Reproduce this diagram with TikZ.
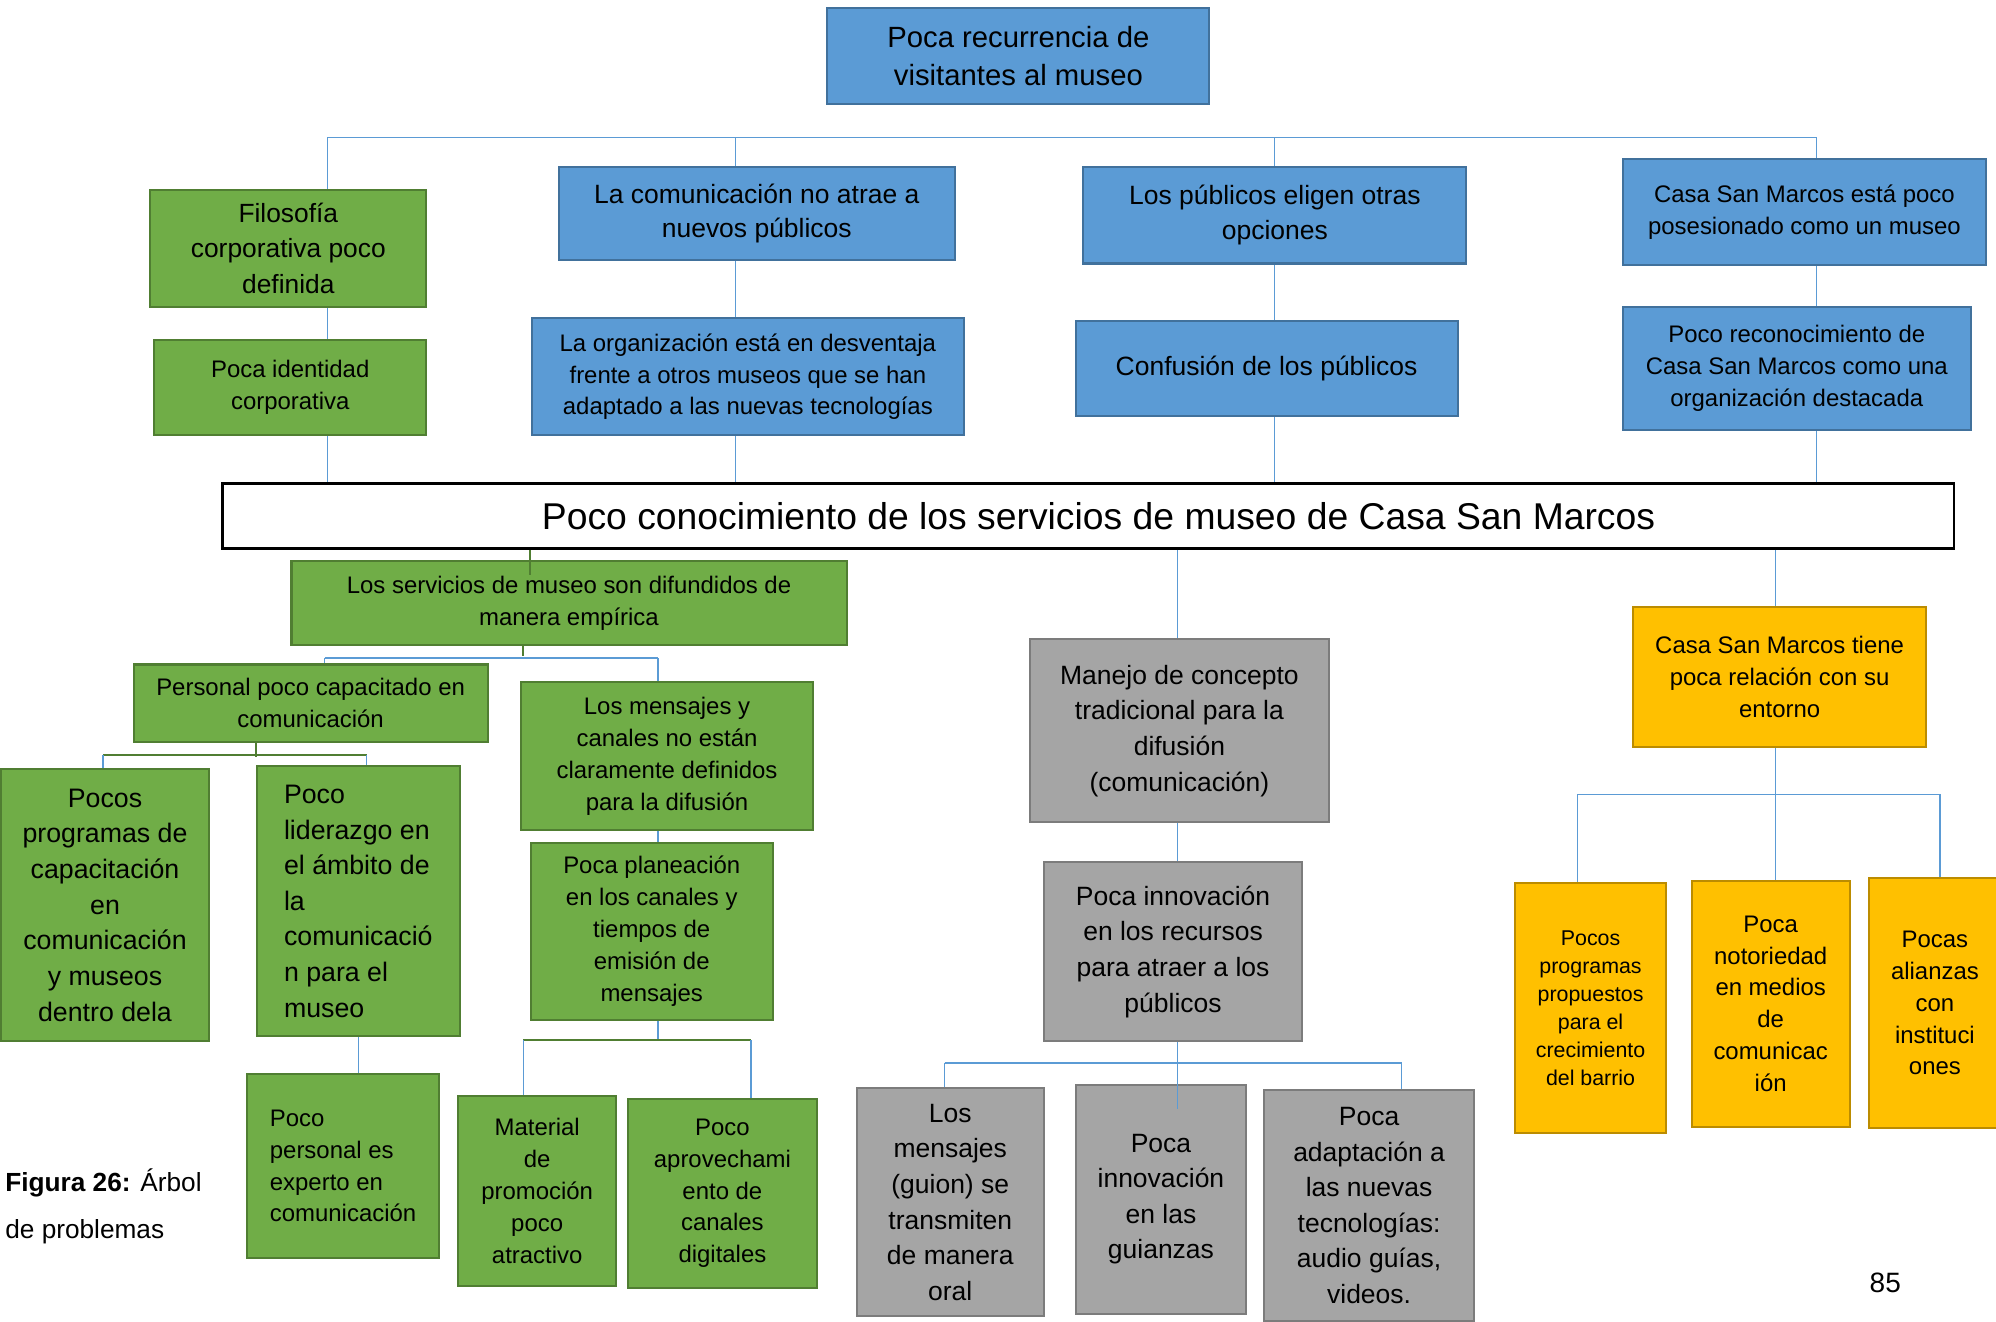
\documentclass[tikz,border=0pt]{standalone}
\usepackage{fontspec}
\setmainfont{Liberation Sans}

\definecolor{azul}{HTML}{5B9BD5}
\definecolor{azulborde}{HTML}{41719C}
\definecolor{verde}{HTML}{70AD47}
\definecolor{verdeborde}{HTML}{507E32}
\definecolor{gris}{HTML}{A5A5A5}
\definecolor{grisborde}{HTML}{7C7C7C}
\definecolor{naranja}{HTML}{FFC000}
\definecolor{naranjaborde}{HTML}{BC8C00}

\tikzset{
  bluebox/.style={draw=azulborde, fill=azul, line width=1.6pt, inner sep=0pt, align=center},
  greenbox/.style={draw=verdeborde, fill=verde, line width=1.6pt, inner sep=0pt, align=center},
  graybox/.style={draw=grisborde, fill=gris, line width=1.6pt, inner sep=0pt, align=center},
  orangebox/.style={draw=naranjaborde, fill=naranja, line width=1.6pt, inner sep=0pt, align=center},
  dims/.style 2 args={minimum width=#1, minimum height=#2},
  fs/.style={font=\fontsize{18.8}{25}\selectfont},
  fm/.style={font=\fontsize{20.8}{28}\selectfont},
  conn/.style={draw=azul, line width=1pt},
  gconn/.style={draw=verdeborde, line width=1.6pt},
}

\begin{document}
\begin{tikzpicture}[x=1pt, y=-1pt]
\useasboundingbox (0,0) rectangle (1568,1038.5);

% efectos
\path (800,44) node[bluebox, dims={300}{76}, font=\fontsize{23}{30}\selectfont] (top) {Poca recurrencia de\\visitantes al museo};

\path (226.5,195) node[greenbox, dims={217}{92}, font=\fontsize{20.7}{28}\selectfont] (filo) {Filosofía\\corporativa poco\\definida};
\path (228,304.5) node[greenbox, dims={214}{75}, fs] (ident) {Poca identidad\\corporativa};

\path (594.5,167.5) node[bluebox, dims={311}{73}, font=\fontsize{20.8}{27}\selectfont] (comu) {La comunicación no atrae a\\nuevos públicos};
\path (587.5,296) node[bluebox, dims={339}{92}, fs] (org) {La organización está en desventaja\\frente a otros museos que se han\\adaptado a las nuevas tecnologías};

\path (1001.5,169) node[bluebox, dims={301}{76}, fm] (publ) {Los públicos eligen otras\\opciones};
\path (995,289.5) node[bluebox, dims={300}{75}, fm] (conf) {Confusión de los públicos};

\path (1417.5,166.5) node[bluebox, dims={285}{83}, fs] (casa) {Casa San Marcos está poco\\posesionado como un museo};
\path (1411.5,289.5) node[bluebox, dims={273}{97}, fs] (recon) {Poco reconocimiento de\\Casa San Marcos como una\\organización destacada};

% problema central
\path (855,405.5) node[draw=black, fill=white, line width=2pt, inner sep=0pt, dims={1360}{51}, font=\fontsize{29.3}{34}\selectfont] (core) {\hspace*{16pt}Poco conocimiento de los servicios de museo de Casa San Marcos};

% causas (verde)
\path (447,474) node[greenbox, dims={436}{66}, fs] (serv) {Los servicios de museo son difundidos de\\manera empírica};
\path (244,552.5) node[greenbox, dims={278}{61}, fs] (pers) {Personal poco capacitado en\\comunicación};
\path (524,594) node[greenbox, dims={230}{116}, fs] (mens) {Los mensajes y\\canales no están\\claramente definidos\\para la difusión};
\path (512,731.5) node[greenbox, dims={190}{139}, fs] (plan) {Poca planeación\\en los canales y\\tiempos de\\emisión de\\mensajes};
\path (82.5,711) node[greenbox, dims={163}{214}, font=\fontsize{21}{28}\selectfont] (pocos) {Pocos\\programas de\\capacitación\\en\\comunicación\\y museos\\dentro dela};
\path (281.5,708) node[greenbox, dims={159}{212}, align=left, font=\fontsize{21}{28}\selectfont] (lider) {Poco\\liderazgo en\\el ámbito de\\la\\comunicació\\n para el\\museo};
\path (269.5,916) node[greenbox, dims={151}{144}, align=left, fs] (personal) {Poco\\personal es\\experto en\\comunicación};
\path (422,935.5) node[greenbox, dims={124}{149}, fs] (mat) {Material\\de\\promoción\\poco\\atractivo};
\path (567.5,937.5) node[greenbox, dims={149}{149}, fs] (aprov) {Poco\\aprovechami\\ento de\\canales\\digitales};

% causas (gris)
\path (926.5,574) node[graybox, dims={235}{144}, fm] (manejo) {Manejo de concepto\\tradicional para la\\difusión\\(comunicación)};
\path (921.5,747.5) node[graybox, dims={203}{141}, fm] (innov) {Poca innovación\\en los recursos\\para atraer a los\\públicos};
\path (746.5,944.5) node[graybox, dims={147}{179}, fm] (oral) {Los\\mensajes\\(guion) se\\transmiten\\de manera\\oral};
\path (912,942) node[graybox, dims={134}{180}, fm] (guia) {Poca\\innovación\\en las\\guianzas};
\path (1075.5,947) node[graybox, dims={165}{182}, fm] (adapt) {Poca\\adaptación a\\las nuevas\\tecnologías:\\audio guías,\\videos.};

% causas (naranja)
\path (1398,532) node[orangebox, dims={230}{110}, fs] (entorno) {Casa San Marcos tiene\\poca relación con su\\entorno};
\path (1249.5,792) node[orangebox, dims={119}{196}, font=\fontsize{16.8}{22}\selectfont] (progs) {Pocos\\programas\\propuestos\\para el\\crecimiento\\del barrio};
\path (1391,788.5) node[orangebox, dims={124}{193}, fs] (noto) {Poca\\notoriedad\\en medios\\de\\comunicac\\ión};
\path (1520,788) node[orangebox, dims={104}{196}, fs] (alian) {Pocas\\alianzas\\con\\instituci\\ones};

% textos sueltos
\path (4,947.5) node[anchor=west, align=left, inner sep=0pt, font=\fontsize{20.6}{37}\selectfont] (cap) {\textbf{Figura 26:} Árbol\\de problemas};
\path (1481,1008) node[inner sep=0pt, font=\fontsize{22}{26}\selectfont] (pag) {85};

% conectores de arriba
\coordinate (c1) at (257,108);
\coordinate (c2) at (578,108);
\coordinate (c3) at (1001,108);
\coordinate (c4) at (1427,108);
\draw[conn] (c1) -- (c4);
\draw[conn] (c1) -- (c1 |- filo.north) (c1 |- filo.south) -- (c1 |- ident.north) (c1 |- ident.south) -- (c1 |- core.north);
\draw[conn] (c2) -- (c2 |- comu.north) (c2 |- comu.south) -- (c2 |- org.north) (c2 |- org.south) -- (c2 |- core.north);
\draw[conn] (c3) -- (c3 |- publ.north) (c3 |- publ.south) -- (c3 |- conf.north) (c3 |- conf.south) -- (c3 |- core.north);
\draw[conn] (c4) -- (c4 |- casa.north) (c4 |- casa.south) -- (c4 |- recon.north) (c4 |- recon.south) -- (c4 |- core.north);

% conectores verdes
\coordinate (g1) at (416,452);
\draw[gconn] (g1 |- core.south) -- (g1);
\coordinate (g2) at (411,515);
\coordinate (s1) at (255,517);
\coordinate (s2) at (517,517);
\draw[gconn] (g2 |- serv.south) -- (g2);
\draw[conn] (s1) -- (s2);
\draw[conn] (s1) -- (s1 |- pers.north);
\draw[conn] (s2) -- (s2 |- mens.north) (s2 |- mens.south) -- (s2 |- plan.north);
\coordinate (q0) at (201,595);
\coordinate (q1) at (81,593);
\coordinate (q2) at (288,593);
\draw[gconn] (q0 |- pers.south) -- (q0);
\draw[gconn] (q1) -- (q2);
\draw[conn] (q1) -- (q1 |- pocos.north);
\draw[conn] (q2) -- (q2 |- lider.north);
\draw[conn] (lider.south) -- (lider.south |- personal.north);
\coordinate (p0) at (517,817);
\coordinate (p1) at (411,817);
\coordinate (p2) at (590,817);
\draw[conn] (s2 |- plan.south) -- (p0);
\draw[gconn] (p1) -- (p2);
\draw[conn] (p1) -- (p1 |- mat.north);
\draw[conn] (p2) -- (p2 |- aprov.north);

% conectores grises
\coordinate (k0) at (925,835);
\coordinate (k1) at (925,871);
\coordinate (k2) at (742,835);
\coordinate (k3) at (1101,835);
\draw[conn] (k0 |- core.south) -- (k0 |- manejo.north) (k0 |- manejo.south) -- (k0 |- innov.north) (k0 |- innov.south) -- (k1);
\draw[conn] (k2) -- (k3);
\draw[conn] (k2) -- (k2 |- oral.north);
\draw[conn] (k3) -- (k3 |- adapt.north);

% conectores naranja
\coordinate (o0) at (1395,624);
\coordinate (o1) at (1239,624);
\coordinate (o2) at (1524,624);
\draw[conn] (o0 |- core.south) -- (o0 |- entorno.north) (o0 |- entorno.south) -- (o0 |- noto.north);
\draw[conn] (o1) -- (o2);
\draw[conn] (o1) -- (o1 |- progs.north);
\draw[conn] (o2) -- (o2 |- alian.north);
\end{tikzpicture}
\end{document}
